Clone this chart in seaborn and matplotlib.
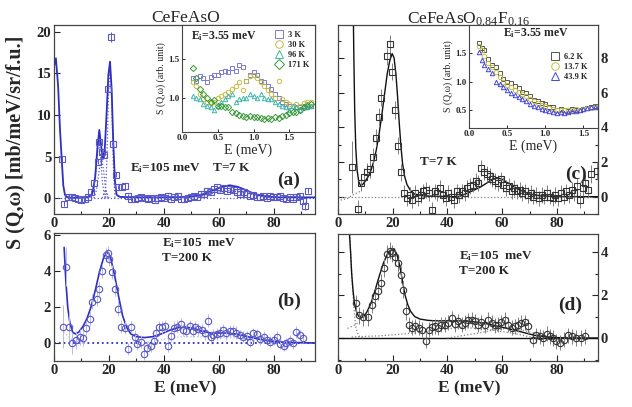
import matplotlib
matplotlib.use("Agg")
import matplotlib.pyplot as plt
from matplotlib.ticker import MultipleLocator
import seaborn as sns

sns.set_theme(style="ticks")
plt.rcParams["font.family"] = ["Liberation Serif", "DejaVu Serif"]
plt.rcParams["font.weight"] = "bold"
plt.rcParams["mathtext.default"] = "regular"

# ---------------- data ----------------
# (a) CeFeAsO, Ei=105 meV, T=7 K
a_E = [2.8, 3.6, 5.2, 6.4, 7.6, 8.8, 10.0, 11.2, 12.4, 13.6, 14.6, 15.9, 16.5, 17.3, 18.1,
       19.8, 20.6, 21.6, 22.5, 23.4, 24.6, 25.8, 27.0, 28.2, 29.4, 30.6, 31.8, 33.0, 34.2,
       35.4, 36.6, 37.8, 39.0, 40.2, 41.4, 42.6, 43.8, 45.0, 46.2, 47.4, 48.6, 49.8, 51.0,
       52.2, 53.4, 54.6, 55.8, 57.0, 58.2, 59.4, 60.6, 61.8, 63.0, 64.2, 65.4, 66.6, 67.8,
       69.0, 70.2, 71.4, 72.6, 73.8, 75.0, 76.2, 77.4, 78.6, 79.8, 81.0, 82.2, 83.4, 84.6,
       85.8, 87.0, 88.2, 89.4, 90.6, 91.4, 92.6]
a_S = [4.7, -0.65, 0.15, 0.1, 0.0, -0.1, -0.25, -0.15, 0.2, 0.7, 1.8, 4.4, 6.7, 5.6, 5.2,
       13.1, 19.4, 6.5, 2.8, 1.3, 1.35, 1.45, 0.3, -0.1, -0.15, 0.0, 0.1, 0.05, -0.1,
       0.05, -0.2, 0.0, 0.15, 0.05, 0.25, -0.1, 0.1, 0.3, -0.1, -0.1, 0.05, 0.2, 0.3,
       0.1, 0.45, 0.55, 0.9, 0.7, 1.1, 1.35, 1.0, 1.2, 0.9, 1.15, 0.95, 0.8, 0.55,
       0.7, 0.45, 0.3, 0.4, 0.2, 0.1, 0.25, 0.0, 0.3, 0.2, 0.1, 0.25, 0.0, -0.1,
       0.1, -0.1, 0.2, 0.3, -0.3, -0.9, 0.9]
a_err = [0.4, 0.3, 0.25, 0.25, 0.25, 0.25, 0.25, 0.25, 0.25, 0.25, 0.3, 0.3, 0.35, 0.35, 0.35,
         0.4, 0.6, 0.35, 0.3, 0.25, 0.25, 0.25, 0.25, 0.25, 0.25, 0.25, 0.25, 0.25, 0.25,
         0.25, 0.25, 0.25, 0.25, 0.25, 0.25, 0.25, 0.25, 0.25, 0.25, 0.25, 0.25, 0.25, 0.25,
         0.25, 0.25, 0.25, 0.25, 0.25, 0.25, 0.25, 0.25, 0.25, 0.25, 0.25, 0.25, 0.25, 0.25,
         0.25, 0.25, 0.25, 0.25, 0.25, 0.25, 0.25, 0.25, 0.25, 0.25, 0.25, 0.25, 0.25, 0.25,
         0.25, 0.25, 0.25, 0.25, 0.3, 0.5, 0.3]
a_fit_E = [0.0, 0.7, 1.5, 2.2, 2.8, 3.4, 4.0, 4.8, 6.0, 9.0, 12.0, 13.0, 14.0, 15.0, 15.8,
           16.5, 17.1, 17.8, 18.5, 19.2, 19.8, 20.4, 21.0, 21.6, 22.2, 22.8, 24.0, 30.0,
           40.0, 45.0, 50.0, 54.0, 58.0, 61.0, 64.0, 67.0, 70.0, 73.0, 77.0, 82.0, 88.0, 95.0]
a_fit_S = [15.8, 16.8, 13.5, 8.2, 4.8, 1.5, 0.4, 0.12, 0.05, 0.05, 0.1, 0.2, 0.6, 2.5, 6.0,
           8.2, 6.5, 4.7, 6.0, 10.5, 14.8, 16.4, 13.0, 6.5, 2.0, 0.4, 0.15, 0.1,
           0.1, 0.12, 0.2, 0.45, 0.95, 1.35, 1.55, 1.35, 0.95, 0.5, 0.2, 0.1, 0.1, 0.1]
a_c1_E = [13.5, 14.5, 15.3, 16.0, 16.4, 17.0, 17.6, 18.3, 19.0]
a_c1_S = [0.0, 1.0, 3.5, 6.0, 6.8, 5.0, 2.0, 0.3, 0.0]
a_c2_E = [14.5, 15.5, 16.5, 17.3, 18.0, 18.8, 19.5]
a_c2_S = [0.0, 1.0, 3.5, 5.0, 3.5, 1.0, 0.0]
a_c3_E = [17.5, 18.3, 18.8, 19.3, 20.0]
a_c3_S = [0.0, 0.6, 1.0, 0.6, 0.0]
a_c4_E = [18.6, 19.2, 19.8, 20.4, 21.0, 21.6, 22.2]
a_c4_S = [0.0, 4.0, 12.0, 16.2, 12.0, 4.0, 0.0]
a_c5_E = [48.0, 54.0, 59.0, 64.0, 69.0, 74.0, 80.0]
a_c5_S = [0.0, 0.3, 0.7, 0.9, 0.7, 0.3, 0.0]

# (b) CeFeAsO, Ei=105 meV, T=200 K
b_E = [3.2, 4.4, 5.6, 6.6, 8.0, 9.3, 10.5, 11.6, 13.1, 14.0, 15.5, 16.5, 17.6, 18.9, 19.5,
       20.1, 21.2, 22.2, 23.4, 24.4, 25.8, 27.0, 28.2, 29.4, 30.4, 31.6, 32.9, 33.9, 35.2,
       36.4, 37.3, 38.3, 39.3, 40.4, 41.6, 42.6, 43.7, 44.9, 46.1, 47.1, 48.1, 49.4, 50.6,
       51.4, 52.6, 53.9, 55.0, 56.0, 57.1, 58.0, 59.3, 60.3, 61.5, 62.7, 64.0, 65.2, 66.4,
       67.6, 68.9, 70.1, 71.5, 72.5, 73.8, 75.0, 76.5, 77.4, 78.7, 79.9, 81.2, 82.4, 83.6,
       84.5, 85.8, 87.0, 88.2, 89.4, 90.6]
b_S = [0.91, 4.24, 0.91, 0.0, 0.15, 0.35, 0.26, 0.85, 1.35, 2.3, 2.43, 3.0, 4.0, 4.89, 4.98,
       4.65, 3.93, 3.0, 1.91, 0.91, 0.85, -0.33, 0.89, 0.35, -0.06, 0.07, -0.61, -0.26, -0.17,
       0.11, 0.54, 0.87, 0.87, 0.94, -0.15, 0.39, 0.85, 0.91, 1.06, 0.72, 0.67, 0.94, 0.67,
       0.87, 0.76, 0.72, 0.54, 1.24, 0.31, 0.44, 0.5, 0.57, 0.72, 0.54, 0.67, 0.67, 0.57,
       0.44, 0.35, 0.39, 0.07, 0.54, 0.48, 0.2, 0.35, 0.17, 0.07, 0.17, 0.35, -0.06, -0.15,
       -0.02, 0.13, -0.02, 0.61, 0.44, 0.28]
b_err = [1.2, 1.1, 0.8, 0.6, 0.5, 0.45, 0.45, 0.4, 0.4, 0.4, 0.4, 0.4, 0.4, 0.4, 0.4,
         0.4, 0.4, 0.4, 0.4, 0.35, 0.35, 0.35, 0.35, 0.35, 0.35, 0.35, 0.35, 0.35, 0.35,
         0.35, 0.35, 0.35, 0.35, 0.35, 0.35, 0.35, 0.35, 0.35, 0.35, 0.35, 0.35, 0.35, 0.35,
         0.35, 0.35, 0.35, 0.35, 0.35, 0.35, 0.35, 0.35, 0.35, 0.35, 0.35, 0.35, 0.35, 0.35,
         0.3, 0.3, 0.3, 0.3, 0.3, 0.3, 0.3, 0.3, 0.3, 0.3, 0.3, 0.3, 0.3, 0.3,
         0.3, 0.3, 0.3, 0.35, 0.3, 0.3]
b_fit_E = [3.7, 4.3, 5.0, 5.8, 6.8, 7.8, 9.0, 10.5, 12.0, 13.5, 15.0, 16.5, 18.0, 19.3, 20.5,
           22.0, 23.5, 25.0, 26.5, 28.0, 30.0, 33.0, 36.0, 39.0, 42.0, 45.0, 48.0, 51.0, 54.0,
           57.0, 60.0, 63.0, 66.0, 69.0, 72.0, 75.0, 78.0, 82.0, 88.0, 95.0]
b_fit_S = [5.3, 3.5, 2.0, 1.1, 0.6, 0.5, 0.6, 0.9, 1.35, 2.0, 2.9, 3.9, 4.7, 5.05, 4.8,
           3.8, 2.6, 1.5, 0.85, 0.5, 0.35, 0.3, 0.35, 0.5, 0.7, 0.85, 0.88, 0.8, 0.65,
           0.55, 0.55, 0.55, 0.5, 0.4, 0.3, 0.2, 0.12, 0.05, 0.02, 0.0]
b_c1_E = [3.5, 5.0, 6.5, 8.0, 10.0]
b_c1_S = [0.6, 0.4, 0.2, 0.1, 0.0]
b_c2_E = [33.0, 40.0, 46.0, 52.0, 58.0, 64.0, 70.0, 78.0, 85.0]
b_c2_S = [0.0, 0.2, 0.35, 0.35, 0.3, 0.3, 0.2, 0.05, 0.0]

# (c) CeFeAsO0.84F0.16, T=7 K
c_E = [5.0, 7.2, 8.4, 9.6, 10.5, 11.7, 12.9, 13.9, 14.9, 15.7, 17.8, 18.9, 19.7, 20.8, 21.9,
       22.9, 24.1, 25.3, 26.2, 27.2, 28.2, 29.2, 30.2, 31.2, 32.2, 33.2, 34.3, 35.3, 36.3,
       37.3, 38.3, 39.3, 40.3, 41.3, 42.3, 43.3, 44.3, 45.3, 46.3, 47.3, 48.3, 49.3, 50.3,
       51.3, 52.4, 53.4, 54.4, 55.4, 56.4, 57.4, 58.4, 59.4, 60.4, 61.4, 62.4, 63.4, 64.4,
       65.4, 66.4, 67.4, 68.4, 69.4, 70.4, 71.4, 72.4, 73.4, 74.4, 75.4, 76.4, 77.4, 78.4,
       79.4, 80.4, 81.4, 82.4, 83.4, 84.4, 85.4, 86.4, 87.4, 88.4, 89.4, 90.4, 91.4, 92.4, 94.6]
c_S = [1.7, -0.7, 0.8, 1.15, 1.45, 1.6, 2.3, 3.4, 4.6, 5.7, 8.1, 8.8, 7.2, 5.0, 2.95,
       1.4, 0.2, -0.1, 0.1, -0.2, 0.2, -0.1, 0.1, 0.3, 0.4, 0.2, -0.75, 0.3, 0.2,
       0.5, 0.1, -0.1, 0.2, 0.0, -0.2, 0.3, 0.1, 0.3, 0.2, 0.5, 0.6, 0.7, 0.9,
       0.8, 1.65, 1.4, 1.3, 1.2, 1.0, 0.9, 0.8, 1.0, 0.7, 0.5, 0.6, 0.3, 0.5,
       0.3, 0.4, 0.2, 0.3, 0.1, 0.2, 0.0, 0.1, -0.1, 0.1, 0.0, 0.2, 0.0, -0.1,
       0.1, -0.1, 0.2, 0.0, 0.3, 0.1, 0.4, 0.2, 0.6, -0.2, 0.5, 0.8, 0.4, 1.3, 1.5]
c_err = [1.5, 0.5, 0.5, 0.5, 0.5, 0.5, 0.5, 0.5, 0.5, 0.5, 0.5, 0.5, 0.5, 0.5, 0.5,
         0.5, 0.45, 0.45, 0.45, 0.45, 0.45, 0.45, 0.45, 0.45, 0.45, 0.45, 0.45, 0.45, 0.45,
         0.45, 0.45, 0.45, 0.45, 0.45, 0.45, 0.45, 0.45, 0.45, 0.45, 0.45, 0.45, 0.45, 0.45,
         0.45, 0.45, 0.45, 0.45, 0.45, 0.45, 0.45, 0.45, 0.45, 0.45, 0.45, 0.45, 0.45, 0.45,
         0.45, 0.45, 0.45, 0.45, 0.45, 0.45, 0.45, 0.45, 0.45, 0.45, 0.45, 0.45, 0.45, 0.45,
         0.45, 0.45, 0.45, 0.45, 0.45, 0.45, 0.45, 0.45, 0.45, 0.45, 0.45, 0.45, 0.45, 0.5, 0.5]
c_fit_E = [5.6, 5.8, 6.1, 6.5, 7.0, 7.6, 8.2, 9.0, 10.0, 11.0, 12.0, 13.0, 14.0, 15.0, 16.0,
           17.0, 18.0, 19.0, 19.8, 20.5, 21.2, 21.8, 22.4, 23.0, 23.6, 24.3, 25.2, 26.5, 28.0,
           31.0, 36.0, 42.0, 44.5, 48.0, 52.0, 55.0, 58.0, 60.0, 62.0, 64.0, 67.0, 70.0, 74.0,
           80.0, 95.0]
c_fit_S = [10.5, 8.0, 5.0, 2.8, 1.5, 0.85, 0.65, 0.7, 0.9, 1.15, 1.5, 2.0, 2.7, 3.6, 4.7,
           5.9, 7.1, 7.9, 8.25, 8.0, 7.0, 5.7, 4.2, 2.9, 1.9, 1.2, 0.7, 0.35, 0.15,
           0.05, 0.02, 0.0, 0.02, 0.25, 0.55, 0.85, 1.1, 1.0, 0.8, 0.6, 0.35, 0.15, 0.05,
           0.0, 0.0]
c_c1_E = [1.0, 3.5, 6.0, 8.0]
c_c1_S = [-0.2, -0.1, 0.15, 0.3]

# (d) CeFeAsO0.84F0.16, Ei=105 meV, T=200 K
d_E = [6.4, 7.8, 9.2, 11.1, 12.3, 13.5, 14.5, 15.7, 16.9, 18.0, 19.0, 19.8, 20.8, 22.0, 23.0,
       23.8, 24.7, 25.9, 27.1, 28.3, 29.6, 30.8, 32.0, 33.2, 34.2, 35.4, 36.6, 37.8, 39.1,
       40.3, 41.5, 42.7, 43.9, 45.2, 46.4, 47.6, 48.8, 50.0, 51.2, 52.4, 53.7, 54.9, 56.1,
       57.3, 58.5, 59.7, 60.9, 62.2, 63.4, 64.6, 65.8, 67.0, 68.3, 69.5, 71.3, 72.5, 73.7,
       74.9, 76.2, 77.4, 78.6, 79.8, 81.0, 82.6, 84.1, 85.5, 87.1, 88.7, 90.2]
d_S = [1.61, 1.05, 0.96, 0.96, 1.55, 1.94, 2.17, 2.56, 3.26, 3.91, 4.06, 3.95, 3.75, 3.49, 2.95,
       2.25, 1.24, 0.62, 0.47, 0.54, 0.47, 0.39, -0.12, 0.39, 0.5, 0.54, 0.47, 0.62, 0.62,
       0.7, 0.93, 0.65, 0.78, 0.62, 0.7, 0.82, 0.85, 0.78, 0.62, 0.74, 0.59, 0.85, 0.7,
       0.59, 0.62, 0.74, 0.85, 0.62, 0.47, 0.54, 0.62, 0.7, 0.74, 0.54, -0.07, 0.12, 0.08,
       0.0, 0.19, 0.08, 0.0, -0.15, -0.23, -0.07, 0.12, 0.08, 0.0, 0.0, 0.08]
d_err = [0.4, 0.4, 0.4, 0.4, 0.4, 0.4, 0.4, 0.4, 0.4, 0.4, 0.4, 0.4, 0.4, 0.4, 0.4,
         0.4, 0.4, 0.35, 0.35, 0.35, 0.35, 0.35, 0.35, 0.35, 0.35, 0.35, 0.35, 0.35, 0.35,
         0.35, 0.35, 0.35, 0.35, 0.35, 0.35, 0.35, 0.35, 0.35, 0.35, 0.35, 0.35, 0.35, 0.35,
         0.35, 0.35, 0.35, 0.35, 0.35, 0.35, 0.35, 0.35, 0.35, 0.35, 0.35, 0.35, 0.35, 0.35,
         0.35, 0.35, 0.35, 0.35, 0.35, 0.35, 0.35, 0.35, 0.35, 0.35, 0.35, 0.35]
d_fit_E = [4.2, 4.6, 5.0, 5.5, 6.0, 6.7, 7.5, 8.5, 9.5, 10.5, 12.0, 13.5, 15.0, 16.5, 18.0,
           19.5, 20.5, 21.5, 22.5, 23.5, 24.5, 25.5, 26.5, 28.0, 30.0, 33.0, 36.0, 40.0, 44.0,
           48.0, 52.0, 56.0, 60.0, 64.0, 68.0, 72.0, 76.0, 80.0, 88.0, 95.0]
d_fit_S = [4.84, 4.0, 3.0, 2.2, 1.65, 1.25, 1.02, 0.95, 1.02, 1.2, 1.6, 2.2, 2.85, 3.45, 3.9,
           4.15, 4.15, 3.9, 3.4, 2.7, 2.0, 1.55, 1.25, 1.0, 0.88, 0.82, 0.8, 0.8, 0.8,
           0.78, 0.72, 0.62, 0.5, 0.38, 0.25, 0.12, 0.05, 0.02, 0.0, 0.0]
d_c1_E = [4.3, 5.0, 5.8, 6.5, 7.5, 9.0]
d_c1_S = [4.84, 3.0, 1.4, 0.5, 0.1, 0.0]
d_c2_E = [3.5, 6.0, 8.0]
d_c2_S = [0.45, 0.6, 0.75]
d_c3_E = [5.0, 15.0, 25.0, 35.0, 45.0, 55.0, 65.0, 72.0]
d_c3_S = [0.05, 0.1, 0.2, 0.35, 0.5, 0.4, 0.2, 0.0]
d_c4_E = [40.0, 50.0, 58.0, 62.0, 68.0, 75.0, 80.0]
d_c4_S = [0.0, 0.2, 0.4, 0.45, 0.35, 0.1, 0.0]

# left inset: Ei = 3.55 meV, CeFeAsO
ia_E = [0.15, 0.2, 0.25, 0.3, 0.35, 0.4, 0.45, 0.5, 0.55, 0.6, 0.65, 0.7, 0.75, 0.8, 0.85,
        0.9, 0.95, 1.0, 1.05, 1.1, 1.15, 1.2, 1.25, 1.3, 1.35, 1.4, 1.45, 1.5, 1.55, 1.6,
        1.65, 1.7, 1.75, 1.8]
ia_3K = [1.25, 1.22, 1.28, 1.25, 1.2, 1.27, 1.3, 1.3, 1.33, 1.35, 1.33, 1.38, 1.35, 1.42, 1.4,
         1.22, 1.3, 1.33, 1.3, 1.22, 1.2, 1.15, 1.12, 1.05, 1.0, 0.95, 0.92, 0.9, 0.9, 0.88,
         0.88, 0.9, 0.92, 0.9]
ia_30K = [1.2, 1.15, 1.05, 0.98, 0.95, 0.93, 0.95, 1.0, 1.02, 1.05, 1.08, 1.12, 1.15, 1.2, 1.1,
          1.22, 1.28, 1.3, 1.25, 1.2, 1.15, 1.1, 1.05, 1.0, 1.22, 0.98, 0.95, 0.92, 0.9, 0.92,
          0.9, 0.93, 0.95, 0.95]
ia_96K = [1.02, 1.0, 0.98, 0.92, 0.9, 0.88, 0.85, 0.9, 0.95, 0.98, 1.02, 1.05, 0.95, 0.98, 1.0,
          1.0, 1.05, 1.02, 1.0, 1.05, 1.0, 0.98, 0.98, 0.95, 0.92, 0.9, 0.88, 0.85, 0.9, 0.88,
          0.85, 0.88, 0.88, 0.9]
ia_171K = [1.38, 1.25, 1.12, 1.05, 1.0, 0.95, 0.97, 0.9, 0.9, 0.88, 0.88, 0.82, 0.8, 0.78, 0.77,
           0.75, 0.76, 0.75, 0.75, 0.74, 0.73, 0.74, 0.73, 0.75, 0.74, 0.76, 0.78, 0.8, 0.82, 0.82,
           0.85, 0.88, 0.9, 0.92]

# right inset: Ei = 3.55 meV, CeFeAsO0.84F0.16
ic_E = [0.13, 0.17, 0.2, 0.25, 0.3, 0.35, 0.4, 0.45, 0.5, 0.55, 0.6, 0.65, 0.7, 0.75, 0.8,
        0.85, 0.9, 0.95, 1.0, 1.05, 1.1, 1.15, 1.2, 1.25, 1.3, 1.35, 1.4, 1.45, 1.5, 1.55,
        1.6, 1.65, 1.7]
ic_6K = [1.68, 1.6, 1.55, 1.4, 1.3, 1.25, 1.15, 1.05, 1.0, 0.98, 0.93, 0.88, 0.82, 0.8, 0.75,
         0.68, 0.65, 0.62, 0.6, 0.55, 0.55, 0.5, 0.52, 0.5, 0.48, 0.52, 0.5, 0.5, 0.52, 0.53,
         0.55, 0.57, 0.57]
ic_14K = [1.62, 1.55, 1.45, 1.33, 1.25, 1.17, 1.08, 1.0, 0.94, 0.9, 0.86, 0.82, 0.78, 0.74, 0.7,
          0.65, 0.62, 0.58, 0.56, 0.53, 0.52, 0.5, 0.5, 0.49, 0.5, 0.5, 0.51, 0.5, 0.52, 0.53,
          0.54, 0.55, 0.57]
ic_44K = [1.52, 1.38, 1.3, 1.22, 1.15, 1.0, 0.95, 0.9, 0.85, 0.8, 0.77, 0.73, 0.7, 0.65, 0.6,
          0.57, 0.55, 0.52, 0.5, 0.48, 0.47, 0.45, 0.47, 0.45, 0.47, 0.48, 0.48, 0.5, 0.52, 0.53,
          0.55, 0.55, 0.56]

BLUE = "#2f2fc0"
BLUE_M = "#5858c8"
BLUE_E = "#b9b9e4"
BLACK = "#111111"
GREY_E = "#808080"


def curve(ax, x, y, color, lw=1.2, ls="-"):
    sns.lineplot(x=x, y=y, ax=ax, color=color, lw=lw, linestyle=ls,
                 estimator=None, sort=False)


def points(ax, x, y, err, marker, color, ecolor):
    ax.errorbar(x, y, yerr=err, fmt=marker, ms=4.6, mfc="none", mec=color, mew=0.8,
                ecolor=ecolor, elinewidth=0.7, capsize=0, zorder=3)


def style_main(ax, ylim, ymaj, ymin=None, right=False):
    ax.set_xlim(0, 95)
    ax.set_ylim(*ylim)
    ax.xaxis.set_major_locator(MultipleLocator(20))
    ax.xaxis.set_minor_locator(MultipleLocator(10))
    ax.yaxis.set_major_locator(MultipleLocator(ymaj))
    if ymin:
        ax.yaxis.set_minor_locator(MultipleLocator(ymin))
    ax.tick_params(which="both", direction="in", width=0.8, labelsize=10.5,
                   left=True, right=right, labelleft=not right, labelright=right)
    ax.tick_params(which="major", length=4)
    ax.tick_params(which="minor", length=2.5)
    ax.tick_params(axis="both", pad=2)
    for sp in ax.spines.values():
        sp.set_color("#444444")
        sp.set_linewidth(0.9)
    ax.set_xlabel("")
    ax.set_ylabel("")


fig = plt.figure(figsize=(6.32, 4.07), dpi=100)
ax_a = fig.add_axes([0.0854, 0.4742, 0.4130, 0.4644])
ax_b = fig.add_axes([0.0854, 0.1130, 0.4130, 0.3145])
ax_c = fig.add_axes([0.5348, 0.4742, 0.4114, 0.4644])
ax_d = fig.add_axes([0.5348, 0.1130, 0.4114, 0.3120])

# (a)
for ex, ey in [(a_c1_E, a_c1_S), (a_c2_E, a_c2_S), (a_c3_E, a_c3_S), (a_c4_E, a_c4_S), (a_c5_E, a_c5_S)]:
    curve(ax_a, ex, ey, BLUE_M, lw=0.9, ls=":")
curve(ax_a, [0, 95], [0, 0], BLUE_M, lw=0.9, ls=":")
curve(ax_a, a_fit_E, a_fit_S, BLUE, lw=1.3)
points(ax_a, a_E, a_S, a_err, "s", BLUE_M, BLUE_M)
style_main(ax_a, (-1.9, 20.8), 5)
ax_a.text(27.6, 3.2, "E$_i$=105 meV    T=7 K", fontsize=9.5)
ax_a.text(85.5, 2.2, "(a)", fontsize=14, ha="center", va="center")

# (b)
curve(ax_b, [0, 95], [0, 0], BLUE, lw=1.3, ls=":")
for ex, ey in [(b_c1_E, b_c1_S), (b_c2_E, b_c2_S)]:
    curve(ax_b, ex, ey, BLUE_E, lw=0.9, ls=":")
points(ax_b, b_E, b_S, b_err, "o", BLUE_M, BLUE_E)
curve(ax_b, b_fit_E, b_fit_S, BLUE, lw=1.2)
style_main(ax_b, (-1.0, 6.1), 2)
ax_b.text(39.4, 4.55, "E$_i$=105  meV\nT=200 K", fontsize=9.5, linespacing=1.2)
ax_b.text(85.5, 2.3, "(b)", fontsize=14, ha="center", va="center")

# (c)
curve(ax_c, [0, 95], [0, 0], GREY_E, lw=0.9, ls=":")
curve(ax_c, c_c1_E, c_c1_S, GREY_E, lw=0.9, ls=":")
points(ax_c, c_E, c_S, c_err, "s", "#333333", GREY_E)
curve(ax_c, c_fit_E, c_fit_S, BLACK, lw=1.0)
style_main(ax_c, (-1.0, 9.9), 2, 1, right=True)
ax_c.text(30.0, 1.8, "T=7 K", fontsize=9.5)
ax_c.text(87.0, 1.3, "(c)", fontsize=14, ha="center", va="center")

# (d)
curve(ax_d, [0, 95], [0, 0], BLACK, lw=1.0)
for ex, ey in [(d_c1_E, d_c1_S), (d_c2_E, d_c2_S), (d_c3_E, d_c3_S), (d_c4_E, d_c4_S)]:
    curve(ax_d, ex, ey, GREY_E, lw=0.9, ls=":")
points(ax_d, d_E, d_S, d_err, "o", "#333333", GREY_E)
curve(ax_d, d_fit_E, d_fit_S, BLACK, lw=1.0)
style_main(ax_d, (-1.07, 4.84), 2, 1, right=True)
ax_d.text(44.2, 3.0, "E$_i$=105  meV\nT=200 K", fontsize=9.5, linespacing=1.2)
ax_d.text(84.7, 1.5, "(d)", fontsize=14, ha="center", va="center")


def style_inset(ax, xlim, ylim, yticks):
    ax.set_xlim(*xlim)
    ax.set_ylim(*ylim)
    ax.set_xticks([0.0, 0.5, 1.0, 1.5])
    ax.set_yticks(yticks)
    ax.xaxis.set_major_formatter(matplotlib.ticker.FormatStrFormatter("%.1f"))
    ax.yaxis.set_major_formatter(matplotlib.ticker.FormatStrFormatter("%.1f"))
    ax.tick_params(direction="in", length=2.5, width=0.7, labelsize=6.5, pad=1.5)
    ax.set_xlabel("E (meV)", fontsize=10, labelpad=1)
    ax.set_ylabel("S (Q,ω) (arb. unit)", fontsize=7, labelpad=2)
    for sp in ax.spines.values():
        sp.set_color("#444444")
        sp.set_linewidth(0.8)


def marks(ax, x, y, marker, color, label):
    sns.lineplot(x=x, y=y, ax=ax, marker=marker, linestyle="", ms=3.2, mfc="none",
                 mec=color, mew=0.7, color=color, estimator=None, sort=False, label=label)


ins_a = fig.add_axes([0.2880, 0.6757, 0.2104, 0.2629])
marks(ins_a, ia_E, ia_3K, "s", "#7b7bd6", "3 K")
marks(ins_a, ia_E, ia_30K, "o", "#c4bd45", "30 K")
marks(ins_a, ia_E, ia_96K, "^", "#3fb5ad", "96 K")
marks(ins_a, ia_E, ia_171K, "D", "#3a9a3a", "171 K")
style_inset(ins_a, (0, 1.86), (0.56, 1.94), [1.0, 1.5])
ins_a.text(0.12, 1.76, "E$_i$=3.55 meV", fontsize=8.5)
ins_a.legend(loc="upper right", frameon=False, fontsize=6, markerscale=1.7,
             handlelength=1.0, handletextpad=0.6, labelspacing=0.25,
             borderaxespad=0.3)

ins_c = fig.add_axes([0.7421, 0.6855, 0.2041, 0.2531])
marks(ins_c, ic_E, ic_6K, "s", "#555555", "6.2 K")
marks(ins_c, ic_E, ic_14K, "o", "#c4bd45", "13.7 K")
marks(ins_c, ic_E, ic_44K, "^", "#4444dd", "43.9 K")
style_inset(ins_c, (0, 1.69), (0.18, 2.0), [0.5, 1.0, 1.5])
ins_c.text(0.45, 1.8, "E$_i$=3.55 meV", fontsize=8.5)
ins_c.legend(loc="upper right", bbox_to_anchor=(0.98, 0.80), frameon=False, fontsize=6,
             markerscale=1.7, handlelength=1.0, handletextpad=0.6, labelspacing=0.25)

fig.text(0.293, 0.975, "CeFeAsO", fontsize=12.5, fontweight="normal", ha="center", va="top")
fig.text(0.742, 0.975, "CeFeAsO$_{0.84}$F$_{0.16}$", fontsize=12.5, fontweight="normal",
         ha="center", va="top")
fig.text(0.024, 0.65, "S (Q,ω) [mb/meV/sr/f.u.]", fontsize=14.5, rotation=90,
         ha="center", va="center")
fig.text(0.293, 0.045, "E (meV)", fontsize=12.5, ha="center", va="center")
fig.text(0.742, 0.045, "E (meV)", fontsize=12.5, ha="center", va="center")

fig.savefig("out.png", dpi=100)
